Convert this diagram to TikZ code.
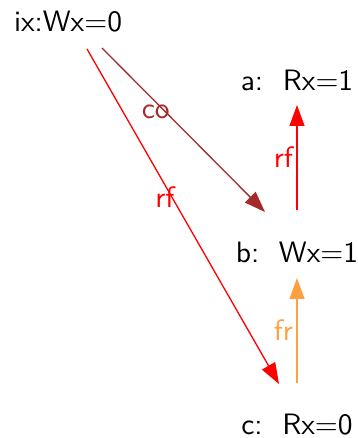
\documentclass[tikz,border=0pt]{standalone}
\usepackage{fontspec}
\usetikzlibrary{arrows.meta,calc}
\newfontfamily\diagfont{lmsans10-regular.otf}
\definecolor{rfred}{HTML}{FF0000}
\definecolor{cobrown}{HTML}{A52A2A}
\definecolor{frorange}{HTML}{FFA040}
\tikzset{
  event/.style={font=\diagfont\fontsize{29.5}{32}\selectfont, anchor=base, inner sep=0pt},
  rel/.style={-{Triangle[length=21pt,width=15pt]}, line width=1.3pt},
  rellabel/.style={font=\diagfont\fontsize{29.5}{32}\selectfont},
}

\begin{document}
\begin{tikzpicture}[x=1pt,y=1pt]
  \useasboundingbox (0,0) rectangle (357,438);

  % events
  \node[event] (ix) at (68,406) {ix:Wx=0};
  \node[event] (a) at (297,347) {a:\ \ Rx=1};
  \node[event] (b) at (297,175) {b:\ \ Wx=1};
  \node[event] (c) at (297,3) {c:\ \ Rx=0};

  % coherence
  \draw[rel, cobrown] ($(ix.base)+(34,-16)$) -- ($(b.base)+(-32,51)$)
    node[rellabel, pos=0.33, yshift=-10] {co};

  % reads-from
  \draw[rel, rfred] ($(ix.base)+(19,-17)$) -- ($(c.base)+(-18,51)$)
    node[rellabel, pos=0.406, yshift=-12] {rf};
  \draw[rel, rfred] ($(b.base)+(0,53)$) -- ($(a.base)+(0,-14)$)
    node[rellabel, left, pos=0.5] {rf};

  % from-reads
  \draw[rel, frorange] ($(c.base)+(0,52)$) -- ($(b.base)+(0,-15)$)
    node[rellabel, left, pos=0.5] {fr};
\end{tikzpicture}
\end{document}
